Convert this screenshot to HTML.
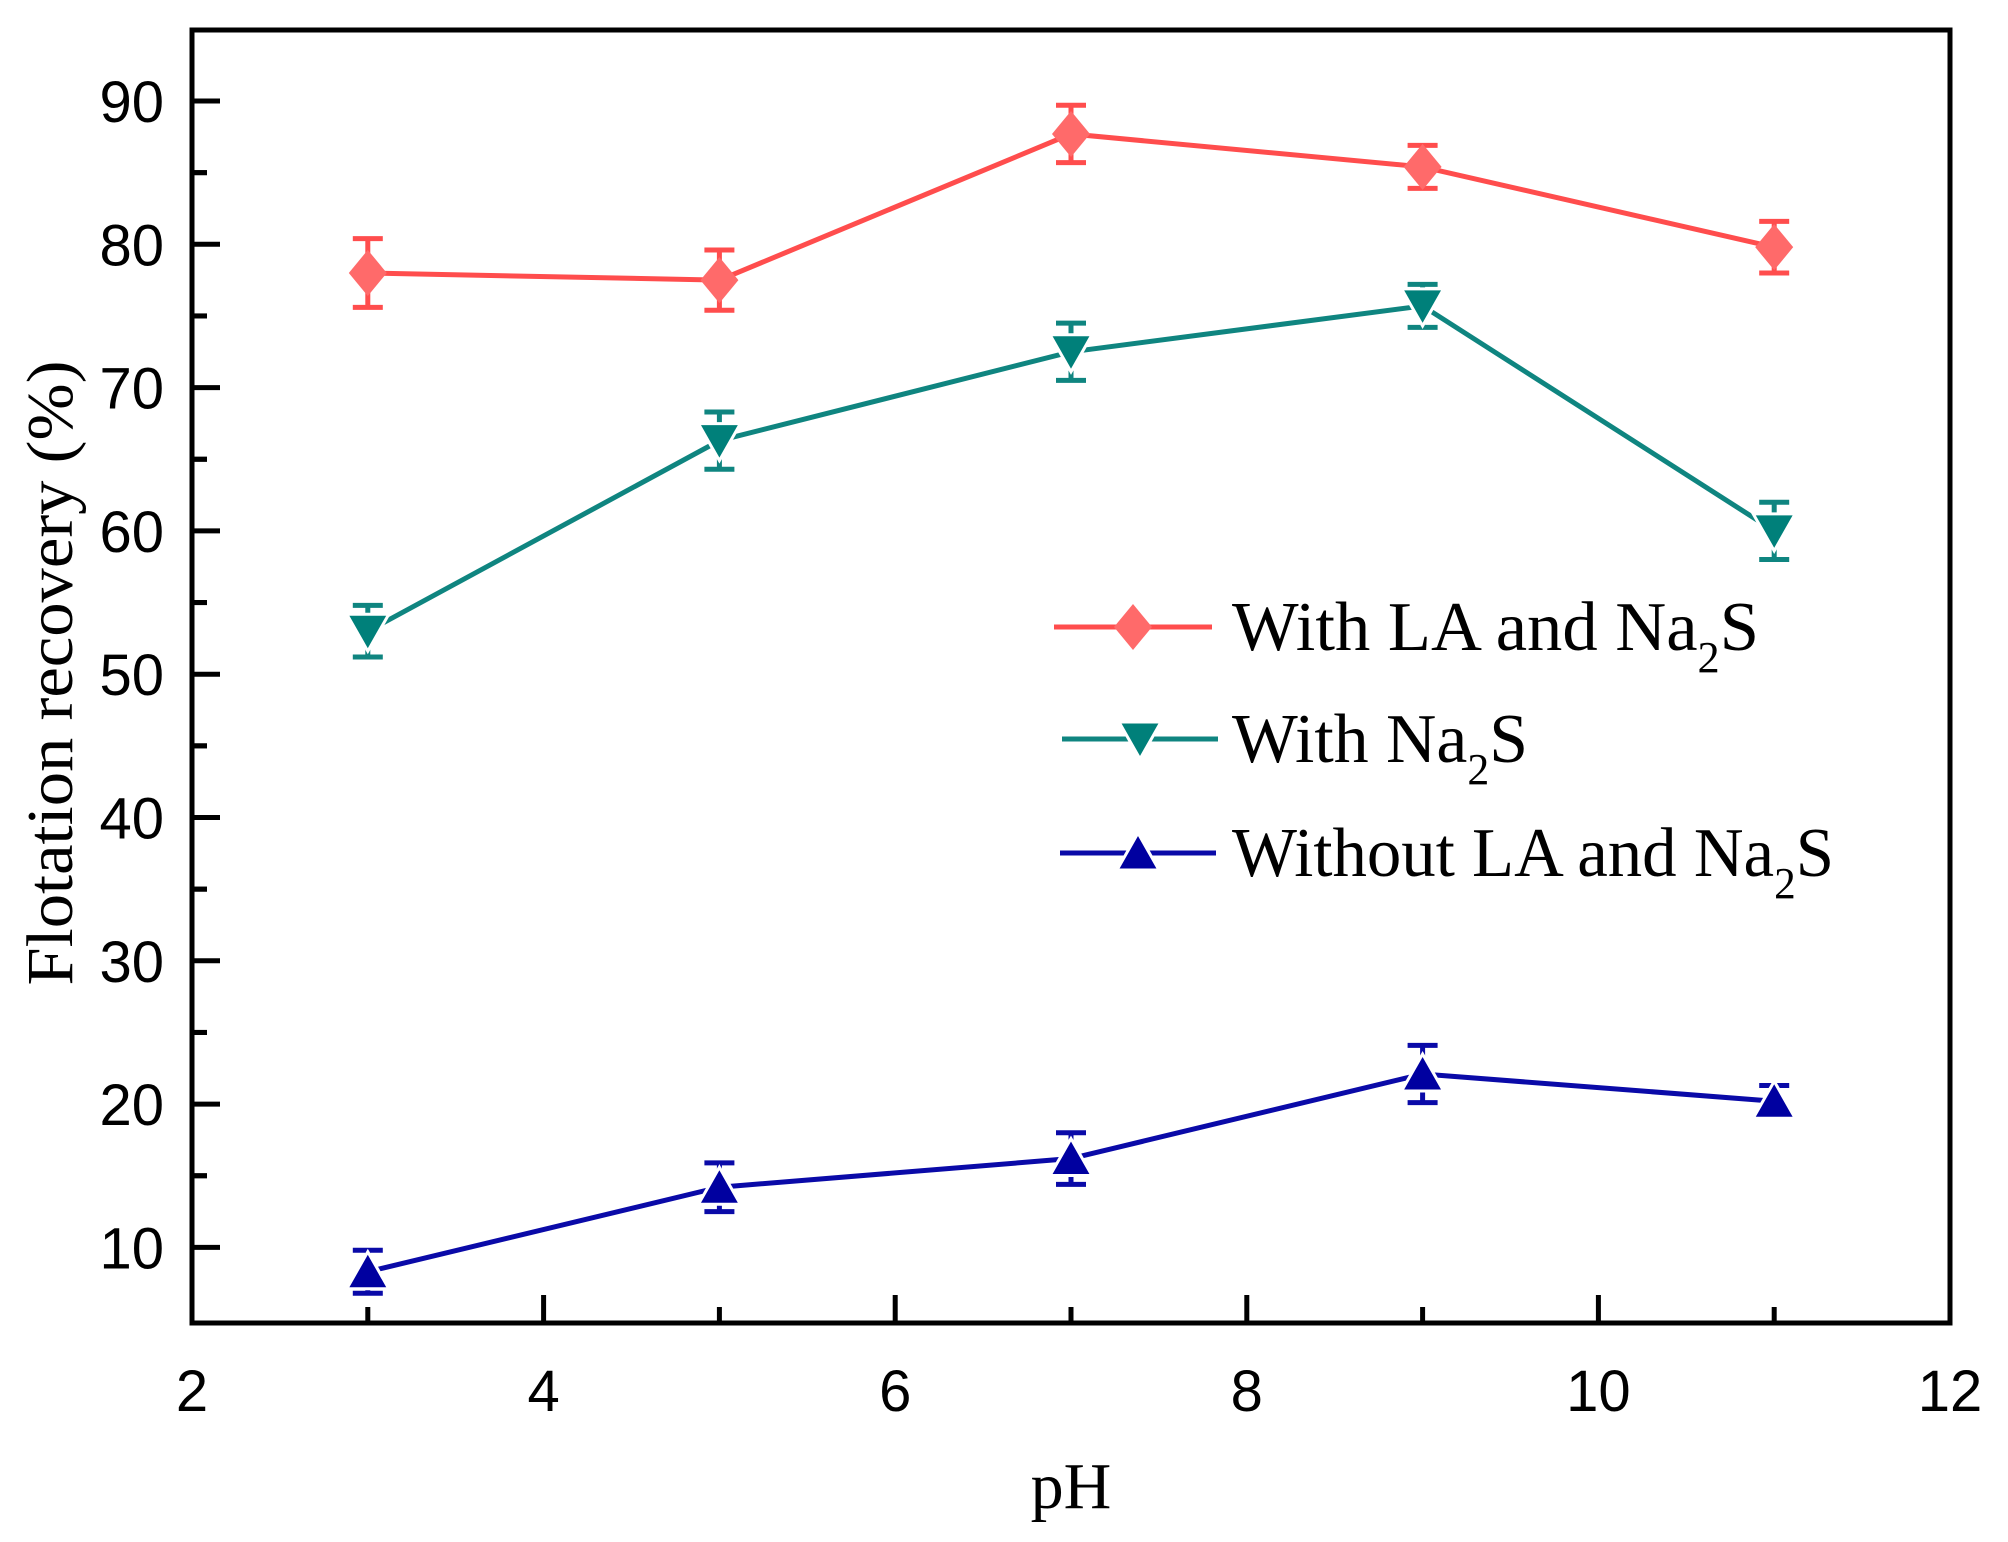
<!DOCTYPE html>
<html><head><meta charset="utf-8"><style>
html,body{margin:0;padding:0;background:#fff;}
svg{display:block;}
</style></head><body>
<svg id="chart" width="2008" height="1542" viewBox="0 0 2008 1542" xmlns="http://www.w3.org/2000/svg">
<g id="axes"></g>
<g id="series"></g>
<g id="legend"></g>
<text x="1071" y="1508" font-family="Liberation Serif, serif" font-size="66" text-anchor="middle">pH</text>
<text transform="translate(72,673) rotate(-90)" font-family="Liberation Serif, serif" font-size="66" text-anchor="middle" textLength="625" lengthAdjust="spacingAndGlyphs">Flotation recovery (%)</text>
</svg>
<script>
const phValues = [3, 5, 7, 9, 11];
const withLaNa2s = [78, 77.5, 87.7, 85.4, 79.8];
const withLaNa2sErr = [2.4, 2.1, 2.0, 1.5, 1.8];
const withNa2s = [53, 66.3, 72.5, 75.7, 60];
const withNa2sErr = [1.8, 2.0, 2.0, 1.5, 2.0];
const withoutLaNa2s = [8.3, 14.2, 16.2, 22.1, 20.2];
const withoutLaNa2sErr = [1.5, 1.7, 1.8, 2.0, 1.1];
const xTicks = [2, 4, 6, 8, 10, 12];
const yTicks = [10, 20, 30, 40, 50, 60, 70, 80, 90];

const NS = 'http://www.w3.org/2000/svg';
const L = 192, R = 1950, T = 30, B = 1323;
const xMin = 2, xMax = 12, yAt90 = 101, perUnit = 14.33;
const xs = v => L + (v - xMin) / (xMax - xMin) * (R - L);
const ys = v => yAt90 + (90 - v) * perUnit;
function mk(tag, attrs, parent) { const e = document.createElementNS(NS, tag); for (const k in attrs) e.setAttribute(k, attrs[k]); parent.appendChild(e); return e; }

const axes = document.getElementById('axes');
const frame = mk('rect', {x: L, y: T, width: R - L, height: B - T, fill: 'none', stroke: '#000', 'stroke-width': 5}, axes);


xTicks.forEach(v => {
  const x = xs(v);
  const t = mk('line', {x1: x, y1: B, x2: x, y2: B - 28, stroke: '#000', 'stroke-width': 5}, axes);
  
  
  const lb = mk('text', {x: x, y: B + 88, 'font-family': 'Liberation Sans, sans-serif', 'font-size': 58, 'text-anchor': 'middle'}, axes);
  lb.textContent = v;
  
  
  if (v < xMax) {
    const m = xs(v + 1);
    const mt = mk('line', {x1: m, y1: B, x2: m, y2: B - 16, stroke: '#000', 'stroke-width': 5}, axes);
    
    
  }
});
yTicks.forEach(v => {
  const y = ys(v);
  const t = mk('line', {x1: L, y1: y, x2: L + 28, y2: y, stroke: '#000', 'stroke-width': 5}, axes);
  
  
  const lb = mk('text', {x: L - 28, y: y + 21, 'font-family': 'Liberation Sans, sans-serif', 'font-size': 58, 'text-anchor': 'end'}, axes);
  lb.textContent = v;
  
  
  [v - 5, v + 5].forEach(m => {
    if (ys(m) > T + 5 && ys(m) < B - 5) {
      const mt = mk('line', {x1: L, y1: ys(m), x2: L + 15, y2: ys(m), stroke: '#000', 'stroke-width': 5}, axes);
      
      
    }
  });
});

function marker(shape, cx, cy, color, parent) {
  let pts;
  if (shape === 'diamond') pts = [[cx, cy - 23], [cx + 19, cy], [cx, cy + 23], [cx - 19, cy]];
  else if (shape === 'down') pts = [[cx - 21, cy - 17], [cx + 21, cy - 17], [cx, cy + 20]];
  else pts = [[cx, cy - 20], [cx + 21, cy + 17], [cx - 21, cy + 17]];
  return mk('polygon', {points: pts.map(p => p.join(',')).join(' '), fill: color, stroke: shape === 'diamond' ? 'none' : '#fff', 'stroke-width': shape === 'diamond' ? 0 : 3}, parent);
}

const seriesDefs = [
  {name: 'with-la-and-na2s', vals: withLaNa2s, err: withLaNa2sErr, color: '#ff4d4d', mcolor: '#ff6a6a', shape: 'diamond'},
  {name: 'with-na2s', vals: withNa2s, err: withNa2sErr, color: '#0f8580', mcolor: '#00807a', shape: 'down'},
  {name: 'without-la-and-na2s', vals: withoutLaNa2s, err: withoutLaNa2sErr, color: '#0a0aa8', mcolor: '#0000a0', shape: 'up'}
];
const sg = document.getElementById('series');
seriesDefs.forEach(s => {
  const g = mk('g', {}, sg);
  
  
  const line = mk('polyline', {points: phValues.map((p, i) => xs(p) + ',' + ys(s.vals[i])).join(' '), fill: 'none', stroke: s.color, 'stroke-width': 5}, g);
  
  
  phValues.forEach((p, i) => {
    const x = xs(p), y = ys(s.vals[i]), yt = ys(s.vals[i] + s.err[i]), yb = ys(s.vals[i] - s.err[i]);
    const eb = mk('path', {d: `M${x},${yt}V${yb}M${x - 15},${yt}H${x + 15}M${x - 15},${yb}H${x + 15}`, stroke: s.color, 'stroke-width': 5, fill: 'none'}, g);
    
    
    const m = marker(s.shape, x, y, s.mcolor, g);
    
    
  });
});

const legendItems = [
  {label: 'With LA and Na', y: 627, color: '#ff4d4d', mcolor: '#ff6a6a', shape: 'diamond', x1: 1054, x2: 1212, tl: 527},
  {label: 'With Na', y: 739, color: '#0f8580', mcolor: '#00807a', shape: 'down', x1: 1062, x2: 1218, tl: 296},
  {label: 'Without LA and Na', y: 853, color: '#0a0aa8', mcolor: '#0000a0', shape: 'up', x1: 1060, x2: 1216, tl: 602}
];
const lg = document.getElementById('legend');
legendItems.forEach(it => {
  const g = mk('g', {}, lg);
  
  
  mk('line', {x1: it.x1, y1: it.y, x2: it.x2, y2: it.y, stroke: it.color, 'stroke-width': 5}, g);
  marker(it.shape, (it.x1 + it.x2) / 2, it.y, it.mcolor, g);
  const t = mk('text', {x: 1232, y: it.y + 23, 'font-family': 'Liberation Serif, serif', 'font-size': 70, textLength: it.tl, lengthAdjust: 'spacingAndGlyphs'}, g);
  
  
  t.appendChild(document.createTextNode(it.label));
  const sub = mk('tspan', {'font-size': 44, dy: 22}, t);
  sub.textContent = '2';
  const s2 = mk('tspan', {dy: -22}, t);
  s2.textContent = 'S';
});
</script>
</body></html>
